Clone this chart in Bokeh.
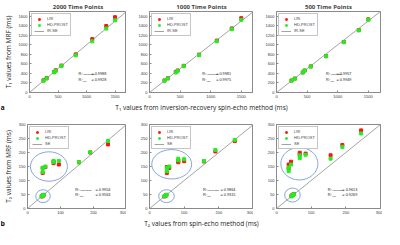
from bokeh.plotting import figure
from bokeh.layouts import row, column
from bokeh.models import Label, Legend, LegendItem, FixedTicker, Range1d
from bokeh.core.properties import value
from bokeh.embed import file_html
from bokeh.resources import INLINE

# ---------------- data ----------------
titles = ["2000 Time Points", "1000 Time Points", "500 Time Points"]

# T1 (ms): reference inversion-recovery spin-echo values and MRF values
t1_ref = [245, 300, 430, 460, 560, 810, 1100, 1345, 1500]
t1_lri_2000 = [255, 300, 430, 465, 565, 800, 1120, 1395, 1580]
t1_hd_2000 = [250, 295, 424, 455, 555, 780, 1075, 1342, 1515]
t1_lri_1000 = [252, 298, 428, 462, 560, 795, 1090, 1345, 1560]
t1_hd_1000 = [248, 295, 422, 455, 552, 785, 1075, 1330, 1525]
t1_lri_500 = [252, 292, 422, 462, 548, 765, 1060, 1310, 1535]
t1_hd_500 = [250, 290, 420, 460, 545, 760, 1055, 1305, 1530]

# T2 (ms): reference spin-echo values and MRF values
t2_ref_2000 = [43, 45, 47, 49, 46, 46, 54, 79, 79, 95, 156, 190, 244]
t2_lri_2000 = [43, 44, 46, 48, 145, 127, 148, 162, 168, 157, 165, 200, 229]
t2_hd_2000 = [44, 46, 47, 49, 145, 130, 150, 170, 166, 170, 165, 201, 241]
t2_ref_1000 = [43, 45, 47, 49, 50, 50, 57, 83, 83, 100, 157, 190, 246]
t2_lri_1000 = [43, 45, 46, 48, 148, 127, 145, 170, 165, 169, 168, 204, 241]
t2_hd_1000 = [44, 46, 47, 49, 145, 133, 150, 178, 172, 176, 170, 209, 245]
t2_ref_500 = [43, 45, 47, 50, 35, 35, 42, 67, 67, 84, 156, 190, 244]
t2_lri_500 = [45, 47, 49, 52, 157, 143, 167, 199, 193, 196, 190, 227, 279]
t2_hd_500 = [43, 46, 48, 51, 146, 133, 157, 190, 180, 192, 178, 220, 268]

r2_t1_hd = ["0.9988", "0.9981", "0.9957"]
r2_t1_lri = ["0.9928", "0.9975", "0.9949"]
r2_t2_hd = ["0.9954", "0.9864", "0.9613"]
r2_t2_lri = ["0.9563", "0.9315", "0.9269"]

t1_ticks_x = [0, 500, 1000, 1500]
t1_ticks_y = [0, 200, 400, 600, 800, 1000, 1200, 1400, 1600]
t2_ticks_x = [0, 100, 200, 300]
t2_ticks_y = [0, 50, 100, 150, 200, 250, 300]
t1_max = 1700
t2_max = 300

xlabel_t1 = "T₁ values from inversion-recovery spin-echo method (ms)"
xlabel_t2 = "T₂ values from spin-echo method (ms)"
ylabel_t1 = "T₁ values from MRF (ms)"
ylabel_t2 = "T₂ values from MRF (ms)"
row_letters = ["a", "b"]

# circled groups (centre x, centre y, width, height) in data units
big_circles = [(65, 150, 112, 105), (64, 158, 115, 105), (66, 160, 107, 116)]
small_circles = [(47, 44, 44, 46), (49, 44, 45, 46), (46, 48, 45, 50)]

RED = "#ff1010"
GREEN = "#22ee22"
GRAY = "#8c8c8c"
AXC = "#8a8a8a"
BLUE = "#7b9bd8"
FONT = "Open Sans"

FRAME_W = 104
TOTAL_W = 382


def style_axes(p):
    for ax in [p.xaxis[0], p.yaxis[0]]:
        ax.major_tick_in = 2
        ax.major_tick_out = 0
        ax.minor_tick_line_color = None
        ax.axis_line_color = AXC
        ax.major_tick_line_color = AXC
        ax.major_label_text_font_size = "4px"
        ax.major_label_text_font = "Liberation Sans"
        ax.major_label_text_color = "#333333"
        ax.major_label_standoff = 2
        ax.axis_label_text_font = FONT
        ax.axis_label_text_font_size = "6.5px"
        ax.axis_label_text_font_style = "normal"
        ax.axis_label_text_color = "#222222"
        ax.axis_label_standoff = 3
    p.xgrid.visible = False
    p.ygrid.visible = False
    p.outline_line_color = AXC


def make_panel(i, ref, lri, hd, vmax, xt, yt, line_name, r2hd, r2lri,
               top, height, bottom, title=None, r2pos=None, circles=None):
    left = 22 if i == 0 else 23
    right = 2 if i == 2 else 0
    p = figure(width=left + FRAME_W + right, height=height,
               min_border_left=left, min_border_right=right,
               min_border_top=top, min_border_bottom=bottom,
               x_range=Range1d(0, vmax), y_range=Range1d(0, vmax),
               output_backend="svg", toolbar_location=None,
               title=title)
    if title:
        p.title.text_font = FONT
        p.title.text_font_size = "6px"
        p.title.text_font_style = "bold"
        p.title.align = "center"
        p.title.standoff = 1
        p.title.offset = 0
    style_axes(p)
    p.xaxis.ticker = FixedTicker(ticks=xt)
    p.yaxis.ticker = FixedTicker(ticks=yt)

    line_vals = [0, vmax]
    r_line = p.line(line_vals, line_vals, line_color=GRAY, line_width=0.8)
    if circles:
        for (cx, cy, w, h) in circles:
            p.ellipse(x=[cx], y=[cy], width=w, height=h, fill_alpha=0,
                      line_color=BLUE, line_width=0.9)
    r_lri = p.scatter(ref, lri, marker="square", size=3, color=RED)
    r_hd = p.scatter(ref, hd, marker="square", size=3, color=GREEN)

    legend = Legend(items=[LegendItem(label="LRI", renderers=[r_lri]),
                           LegendItem(label="HD-PROST", renderers=[r_hd]),
                           LegendItem(label=line_name, renderers=[r_line])],
                    location="top_left")
    legend.label_text_font_size = "4px"
    legend.label_text_font = "Liberation Sans"
    legend.label_height = 4
    legend.glyph_height = 4
    legend.glyph_width = 10
    legend.spacing = 1
    legend.padding = 2
    legend.margin = 2
    legend.label_standoff = 3
    legend.border_line_color = GRAY
    legend.border_line_width = 0.8
    legend.background_fill_alpha = 1
    p.add_layout(legend)

    # R^2 annotation
    x0, x1, y0, y1 = r2pos
    for (yy, sub, val) in [(y0, "HDPROST", r2hd), (y1, "LRI", r2lri)]:
        p.add_layout(Label(x=x0, y=yy, text="R²", text_font_size="3.8px",
                           text_font="Liberation Sans", text_baseline="middle",
                           text_color="#222222"))
        p.add_layout(Label(x=x0, y=yy, x_offset=4.4, y_offset=-1, text=sub,
                           text_font_size="2.4px", text_font="Liberation Sans",
                           text_baseline="middle", text_color="#222222"))
        p.add_layout(Label(x=x1, y=yy, text="= " + val, text_font_size="3.8px",
                           text_font="Liberation Sans", text_baseline="middle",
                           text_color="#222222"))
    return p


def label_strip(letter, text, h):
    s = figure(width=TOTAL_W, height=h, x_range=Range1d(0, TOTAL_W), y_range=Range1d(0, h),
               min_border=0, output_backend="svg", toolbar_location=None)
    s.axis.visible = False
    s.xgrid.visible = False
    s.ygrid.visible = False
    s.outline_line_color = None
    s.text(x=[0], y=[h / 2], text=[letter], text_font=value(FONT), text_font_size="7px",
           text_font_style="bold", text_baseline="middle", text_align="left",
           text_color="#111111")
    s.text(x=[201], y=[h / 2], text=[text], text_font=value(FONT), text_font_size="6.5px",
           text_baseline="middle", text_align="center", text_color="#222222")
    return s


t1_sets = [(t1_lri_2000, t1_hd_2000), (t1_lri_1000, t1_hd_1000), (t1_lri_500, t1_hd_500)]
t1_r2pos = [(858, 1085, 395, 255), (864, 1090, 395, 255), (810, 982, 395, 255)]
top_figs = []
for i in range(3):
    lri, hd = t1_sets[i]
    p = make_panel(i, t1_ref, lri, hd, t1_max, t1_ticks_x, t1_ticks_y, "IR-SE",
                   r2_t1_hd[i], r2_t1_lri[i], top=9, height=101, bottom=9,
                   title=titles[i], r2pos=t1_r2pos[i])
    top_figs.append(p)

t2_sets = [(t2_ref_2000, t2_lri_2000, t2_hd_2000), (t2_ref_1000, t2_lri_1000, t2_hd_1000),
           (t2_ref_500, t2_lri_500, t2_hd_500)]
t2_r2pos = [(145, 206, 67, 48), (154, 205, 67, 47), (148, 190, 67, 47)]
bot_figs = []
for i in range(3):
    ref, lri, hd = t2_sets[i]
    p = make_panel(i, ref, lri, hd, t2_max, t2_ticks_x, t2_ticks_y, "SE",
                   r2_t2_hd[i], r2_t2_lri[i], top=11, height=104, bottom=9,
                   r2pos=t2_r2pos[i], circles=[big_circles[i], small_circles[i]])
    bot_figs.append(p)

top_figs[0].yaxis.axis_label = ylabel_t1
bot_figs[0].yaxis.axis_label = ylabel_t2

layout = column(row(*top_figs), label_strip(row_letters[0], xlabel_t1, 12),
                row(*bot_figs), label_strip(row_letters[1], xlabel_t2, 12))
open("out.html", "w").write(file_html(layout, INLINE))
